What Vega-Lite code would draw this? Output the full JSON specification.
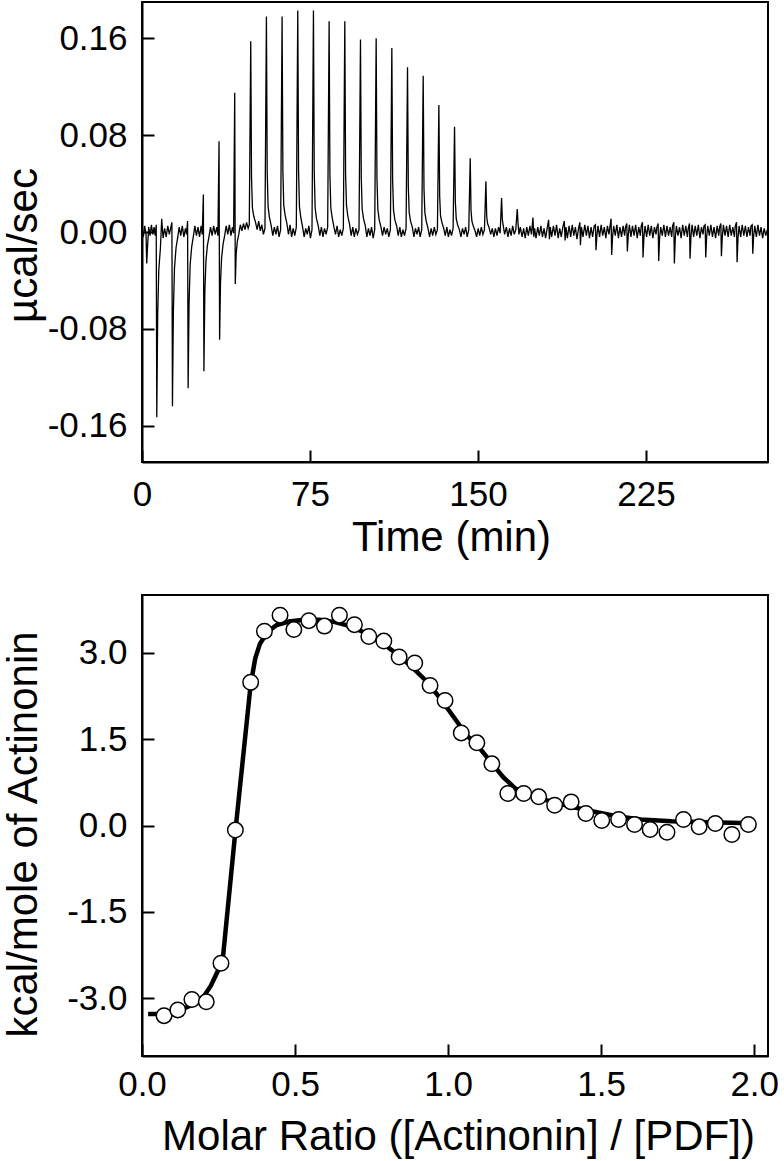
{
  "$schema": "https://vega.github.io/schema/vega-lite/v6.json",
  "background": "white",
  "padding": {"left": 0, "top": 1, "right": 10, "bottom": 5},
  "spacing": 133,
  "bounds": "flush",
  "config": {
    "font": "Liberation Sans",
    "view": {"stroke": "black", "strokeWidth": 2},
    "locale": {"number": {"decimal": ".", "thousands": ",", "grouping": [3], "currency": ["", ""], "minus": "-"}},
    "axis": {
      "domainColor": "black", "domainWidth": 2,
      "tickColor": "black", "tickWidth": 2, "tickSize": -12,
      "labelFont": "Liberation Sans", "labelFontSize": 35, "labelColor": "black",
      "titleFont": "Liberation Sans", "titleFontSize": 42, "titleFontWeight": "normal", "titleColor": "black",
      "grid": false, "labelFlush": false, "labelOverlap": false, "labelBound": false
    },
    "axisY": {"labelPadding": 27, "titleAngle": -90, "titleBaseline": "alphabetic", "titleAlign": "center"},
    "axisX": {"titleBaseline": "alphabetic", "titleAlign": "center"}
  },
  "vconcat": [
    {
      "width": 626,
      "height": 460,
      "data": {"values": [
        {"t":0,"p":0.003},{"t":0.6,"p":-0.004},{"t":1.2,"p":0.005},{"t":1.8,"p":-0.002},{"t":2.1,"p":-0.026},{"t":2.5,"p":-0.011},{"t":3.0,"p":0.004},{"t":3.6,"p":-0.003},{"t":4.2,"p":0.006},{"t":4.8,"p":-0.002},{"t":5.4,"p":0.004},{"t":5.9,"p":-0.003},
        {"t":6.35,"p":0.006},{"t":6.6,"p":-0.153},{"t":7.0,"p":-0.069},{"t":7.5,"p":-0.031},{"t":8.2,"p":-0.014},{"t":8.8,"p":0.011},{"t":9.4,"p":-0.005},{"t":10.1,"p":0.003},{"t":10.8,"p":-0.004},{"t":11.5,"p":0.005},{"t":12.2,"p":-0.002},{"t":12.9,"p":0.004},
        {"t":13.35,"p":0.008},{"t":13.6,"p":-0.144},{"t":14.0,"p":-0.066},{"t":14.5,"p":-0.03},{"t":15.2,"p":-0.013},{"t":15.9,"p":-0.005},{"t":16.6,"p":0.004},{"t":17.3,"p":-0.003},{"t":18.0,"p":0.005},{"t":18.7,"p":-0.004},{"t":19.4,"p":0.003},{"t":19.9,"p":-0.002},
        {"t":20.35,"p":0.009},{"t":20.6,"p":-0.129},{"t":21.0,"p":-0.06},{"t":21.5,"p":-0.027},{"t":22.2,"p":-0.012},{"t":22.9,"p":-0.004},{"t":23.6,"p":0.005},{"t":24.3,"p":-0.003},{"t":25.0,"p":0.004},{"t":25.7,"p":-0.004},{"t":26.4,"p":0.005},{"t":26.9,"p":-0.002},
        {"t":27.4,"p":0.031},{"t":27.65,"p":-0.115},{"t":28.05,"p":-0.05},{"t":28.55,"p":-0.024},{"t":29.2,"p":-0.011},{"t":29.9,"p":-0.004},{"t":30.6,"p":0.004},{"t":31.3,"p":-0.003},{"t":32.0,"p":0.005},{"t":32.7,"p":-0.002},{"t":33.4,"p":0.004},{"t":33.9,"p":-0.003},
        {"t":34.4,"p":0.075},{"t":34.65,"p":-0.089},{"t":35.05,"p":-0.042},{"t":35.55,"p":-0.021},{"t":36.2,"p":-0.01},{"t":36.9,"p":-0.003},{"t":37.6,"p":0.005},{"t":38.3,"p":-0.002},{"t":39.0,"p":0.006},{"t":39.7,"p":-0.003},{"t":40.4,"p":0.004},{"t":40.9,"p":-0.001},
        {"t":41.4,"p":0.115},{"t":41.65,"p":-0.043},{"t":42.05,"p":-0.018},{"t":42.55,"p":-0.008},{"t":43.2,"p":-0.002},{"t":43.9,"p":0.006},{"t":44.6,"p":0.001},{"t":45.3,"p":0.007},{"t":46.0,"p":0.002},{"t":46.7,"p":0.008},{"t":47.4,"p":0.003},{"t":47.9,"p":0.006},
        {"t":48.55,"p":0.1575},{"t":48.9,"p":0.045},{"t":49.3,"p":0.02},{"t":49.9,"p":0.013},{"t":50.7,"p":0.008},{"t":51.4,"p":0.002},{"t":52.1,"p":0.009},{"t":52.8,"p":0.001},{"t":53.5,"p":0.006},{"t":54.2,"p":-0.002},{"t":54.9,"p":0.003},
        {"t":55.55,"p":0.178},{"t":55.9,"p":0.05},{"t":56.3,"p":0.021},{"t":56.9,"p":0.012},{"t":57.7,"p":0.005},{"t":58.4,"p":-0.003},{"t":59.1,"p":0.004},{"t":59.8,"p":-0.002},{"t":60.5,"p":0.005},{"t":61.2,"p":-0.004},{"t":61.9,"p":0.002},
        {"t":62.55,"p":0.178},{"t":62.9,"p":0.05},{"t":63.3,"p":0.022},{"t":63.9,"p":0.014},{"t":64.7,"p":0.007},{"t":65.4,"p":-0.002},{"t":66.1,"p":0.006},{"t":66.8,"p":-0.004},{"t":67.5,"p":0.003},{"t":68.2,"p":-0.003},{"t":68.9,"p":0.004},
        {"t":69.55,"p":0.183},{"t":69.9,"p":0.051},{"t":70.3,"p":0.021},{"t":70.9,"p":0.012},{"t":71.7,"p":0.004},{"t":72.4,"p":-0.004},{"t":73.1,"p":0.003},{"t":73.8,"p":-0.002},{"t":74.5,"p":0.005},{"t":75.2,"p":-0.005},{"t":75.9,"p":0.002},
        {"t":76.55,"p":0.183},{"t":76.9,"p":0.05},{"t":77.3,"p":0.02},{"t":77.9,"p":0.011},{"t":78.7,"p":0.005},{"t":79.4,"p":-0.003},{"t":80.1,"p":0.004},{"t":80.8,"p":-0.004},{"t":81.5,"p":0.003},{"t":82.2,"p":-0.002},{"t":82.9,"p":0.004},
        {"t":83.55,"p":0.174},{"t":83.9,"p":0.048},{"t":84.3,"p":0.02},{"t":84.9,"p":0.012},{"t":85.7,"p":0.004},{"t":86.4,"p":-0.002},{"t":87.1,"p":0.005},{"t":87.8,"p":-0.004},{"t":88.5,"p":0.002},{"t":89.2,"p":-0.003},{"t":89.9,"p":0.003},
        {"t":90.55,"p":0.174},{"t":90.9,"p":0.048},{"t":91.3,"p":0.022},{"t":91.9,"p":0.013},{"t":92.7,"p":0.006},{"t":93.4,"p":-0.003},{"t":94.1,"p":0.004},{"t":94.8,"p":-0.004},{"t":95.5,"p":0.003},{"t":96.2,"p":-0.002},{"t":96.9,"p":0.002},
        {"t":97.55,"p":0.159},{"t":97.9,"p":0.045},{"t":98.3,"p":0.019},{"t":98.9,"p":0.011},{"t":99.7,"p":0.005},{"t":100.4,"p":-0.004},{"t":101.1,"p":0.003},{"t":101.8,"p":-0.003},{"t":102.5,"p":0.004},{"t":103.2,"p":-0.005},{"t":103.9,"p":0.002},
        {"t":104.55,"p":0.16},{"t":104.9,"p":0.045},{"t":105.3,"p":0.019},{"t":105.9,"p":0.01},{"t":106.7,"p":0.004},{"t":107.4,"p":-0.003},{"t":108.1,"p":0.004},{"t":108.8,"p":-0.002},{"t":109.5,"p":0.003},{"t":110.2,"p":-0.004},{"t":110.9,"p":0.002},
        {"t":111.55,"p":0.152},{"t":111.9,"p":0.043},{"t":112.3,"p":0.018},{"t":112.9,"p":0.01},{"t":113.7,"p":0.005},{"t":114.4,"p":-0.003},{"t":115.1,"p":0.004},{"t":115.8,"p":-0.004},{"t":116.5,"p":0.002},{"t":117.2,"p":-0.003},{"t":117.9,"p":0.003},
        {"t":118.55,"p":0.136},{"t":118.9,"p":0.038},{"t":119.3,"p":0.016},{"t":119.9,"p":0.009},{"t":120.7,"p":0.004},{"t":121.4,"p":-0.004},{"t":122.1,"p":0.003},{"t":122.8,"p":-0.002},{"t":123.5,"p":0.004},{"t":124.2,"p":-0.004},{"t":124.9,"p":0.002},
        {"t":125.55,"p":0.129},{"t":125.9,"p":0.036},{"t":126.3,"p":0.016},{"t":126.9,"p":0.009},{"t":127.7,"p":0.003},{"t":128.4,"p":-0.004},{"t":129.1,"p":0.003},{"t":129.8,"p":-0.003},{"t":130.5,"p":0.004},{"t":131.2,"p":-0.002},{"t":131.9,"p":0.002},
        {"t":132.55,"p":0.105},{"t":132.9,"p":0.03},{"t":133.3,"p":0.013},{"t":133.9,"p":0.008},{"t":134.7,"p":0.003},{"t":135.4,"p":-0.003},{"t":136.1,"p":0.004},{"t":136.8,"p":-0.004},{"t":137.5,"p":0.002},{"t":138.2,"p":-0.003},{"t":138.9,"p":0.003},
        {"t":139.55,"p":0.087},{"t":139.9,"p":0.025},{"t":140.3,"p":0.011},{"t":140.9,"p":0.006},{"t":141.7,"p":0.002},{"t":142.4,"p":-0.004},{"t":143.1,"p":0.003},{"t":143.8,"p":-0.002},{"t":144.5,"p":0.004},{"t":145.2,"p":-0.004},{"t":145.9,"p":0.002},
        {"t":146.55,"p":0.061},{"t":146.9,"p":0.018},{"t":147.3,"p":0.009},{"t":147.9,"p":0.005},{"t":148.7,"p":0.001},{"t":149.4,"p":-0.004},{"t":150.1,"p":0.003},{"t":150.8,"p":-0.003},{"t":151.5,"p":0.004},{"t":152.2,"p":-0.002},{"t":152.9,"p":0.002},
        {"t":153.55,"p":0.042},{"t":153.9,"p":0.013},{"t":154.3,"p":0.007},{"t":154.9,"p":0.004},{"t":155.7,"p":-0.002},{"t":156.4,"p":0.003},{"t":157.1,"p":-0.004},{"t":157.8,"p":0.003},{"t":158.5,"p":-0.003},{"t":159.2,"p":0.004},{"t":159.9,"p":-0.001},
        {"t":160.55,"p":0.028},{"t":160.9,"p":0.01},{"t":161.3,"p":0.005},{"t":161.9,"p":-0.002},{"t":162.7,"p":0.004},{"t":163.4,"p":-0.004},{"t":164.1,"p":0.003},{"t":164.8,"p":-0.003},{"t":165.5,"p":0.005},{"t":166.2,"p":-0.002},{"t":166.9,"p":0.002},
        {"t":167.55,"p":0.019},{"t":167.9,"p":0.007},{"t":168.3,"p":-0.002},{"t":168.9,"p":0.004},{"t":169.7,"p":-0.004},{"t":170.4,"p":0.003},{"t":171.1,"p":-0.005},{"t":171.8,"p":0.004},{"t":172.5,"p":-0.003},{"t":173.2,"p":0.005},{"t":173.9,"p":-0.002},
        {"t":174.55,"p":0.012},{"t":174.9,"p":-0.004},{"t":175.3,"p":0.003},{"t":175.9,"p":-0.005},{"t":176.7,"p":0.004},{"t":177.4,"p":-0.003},{"t":178.1,"p":0.005},{"t":178.8,"p":-0.004},{"t":179.5,"p":0.003},{"t":180.2,"p":-0.005},{"t":180.9,"p":0.003},
        {"t":181.55,"p":0.01},{"t":181.9,"p":-0.006},{"t":182.3,"p":0.004},{"t":182.9,"p":-0.004},{"t":183.7,"p":0.005},{"t":184.4,"p":-0.003},{"t":185.1,"p":0.006},{"t":185.8,"p":-0.005},{"t":186.5,"p":0.003},{"t":187.2,"p":-0.004},{"t":187.9,"p":0.004},
        {"t":188.55,"p":0.009},{"t":188.9,"p":-0.007},{"t":189.3,"p":0.004},{"t":189.9,"p":-0.005},{"t":190.7,"p":0.005},{"t":191.4,"p":-0.004},{"t":192.1,"p":0.006},{"t":192.8,"p":-0.003},{"t":193.5,"p":0.004},{"t":194.2,"p":-0.006},{"t":194.9,"p":0.003},
        {"t":195.5,"p":0.008},{"t":195.75,"p":-0.011},{"t":196.2,"p":0.004},{"t":196.9,"p":-0.004},{"t":197.7,"p":0.006},{"t":198.4,"p":-0.003},{"t":199.1,"p":0.005},{"t":199.8,"p":-0.005},{"t":200.5,"p":0.004},{"t":201.2,"p":-0.004},{"t":201.9,"p":0.005},
        {"t":202.45,"p":0.006},{"t":202.7,"p":-0.015},{"t":203.1,"p":-0.003},{"t":203.6,"p":0.005},{"t":204.3,"p":-0.004},{"t":205.0,"p":0.006},{"t":205.7,"p":-0.003},{"t":206.4,"p":0.004},{"t":207.1,"p":-0.005},{"t":207.8,"p":0.005},{"t":208.5,"p":-0.002},{"t":208.9,"p":0.004},
        {"t":209.45,"p":0.011},{"t":209.7,"p":-0.019},{"t":210.1,"p":-0.004},{"t":210.6,"p":0.005},{"t":211.3,"p":-0.003},{"t":212.0,"p":0.006},{"t":212.7,"p":-0.005},{"t":213.4,"p":0.004},{"t":214.1,"p":-0.004},{"t":214.8,"p":0.005},{"t":215.5,"p":-0.003},{"t":215.9,"p":0.004},
        {"t":216.45,"p":0.007},{"t":216.7,"p":-0.016},{"t":217.1,"p":-0.003},{"t":217.6,"p":0.006},{"t":218.3,"p":-0.004},{"t":219.0,"p":0.005},{"t":219.7,"p":-0.003},{"t":220.4,"p":0.006},{"t":221.1,"p":-0.005},{"t":221.8,"p":0.004},{"t":222.5,"p":-0.003},{"t":222.9,"p":0.005},
        {"t":223.45,"p":0.008},{"t":223.7,"p":-0.021},{"t":224.1,"p":-0.004},{"t":224.6,"p":0.005},{"t":225.3,"p":-0.004},{"t":226.0,"p":0.006},{"t":226.7,"p":-0.003},{"t":227.4,"p":0.005},{"t":228.1,"p":-0.005},{"t":228.8,"p":0.004},{"t":229.5,"p":-0.002},{"t":229.9,"p":0.004},
        {"t":230.45,"p":0.007},{"t":230.7,"p":-0.024},{"t":231.1,"p":-0.005},{"t":231.6,"p":0.004},{"t":232.3,"p":-0.003},{"t":233.0,"p":0.006},{"t":233.7,"p":-0.004},{"t":234.4,"p":0.005},{"t":235.1,"p":-0.003},{"t":235.8,"p":0.004},{"t":236.5,"p":-0.004},{"t":236.9,"p":0.005},
        {"t":237.45,"p":0.008},{"t":237.7,"p":-0.026},{"t":238.1,"p":-0.005},{"t":238.6,"p":0.005},{"t":239.3,"p":-0.003},{"t":240.0,"p":0.004},{"t":240.7,"p":-0.005},{"t":241.4,"p":0.006},{"t":242.1,"p":-0.003},{"t":242.8,"p":0.005},{"t":243.5,"p":-0.004},{"t":243.9,"p":0.003},
        {"t":244.45,"p":0.007},{"t":244.7,"p":-0.022},{"t":245.1,"p":-0.004},{"t":245.6,"p":0.006},{"t":246.3,"p":-0.004},{"t":247.0,"p":0.005},{"t":247.7,"p":-0.003},{"t":248.4,"p":0.006},{"t":249.1,"p":-0.005},{"t":249.8,"p":0.004},{"t":250.5,"p":-0.002},{"t":250.9,"p":0.005},
        {"t":251.45,"p":0.006},{"t":251.7,"p":-0.021},{"t":252.1,"p":-0.004},{"t":252.6,"p":0.005},{"t":253.3,"p":-0.003},{"t":254.0,"p":0.006},{"t":254.7,"p":-0.004},{"t":255.4,"p":0.004},{"t":256.1,"p":-0.005},{"t":256.8,"p":0.005},{"t":257.5,"p":-0.003},{"t":257.9,"p":0.004},
        {"t":258.45,"p":0.007},{"t":258.7,"p":-0.02},{"t":259.1,"p":-0.004},{"t":259.6,"p":0.006},{"t":260.3,"p":-0.003},{"t":261.0,"p":0.005},{"t":261.7,"p":-0.004},{"t":262.4,"p":0.006},{"t":263.1,"p":-0.003},{"t":263.8,"p":0.004},{"t":264.5,"p":-0.004},{"t":264.9,"p":0.005},
        {"t":265.45,"p":0.008},{"t":265.7,"p":-0.025},{"t":266.1,"p":-0.005},{"t":266.6,"p":0.005},{"t":267.3,"p":-0.004},{"t":268.0,"p":0.006},{"t":268.7,"p":-0.003},{"t":269.4,"p":0.005},{"t":270.1,"p":-0.004},{"t":270.8,"p":0.004},{"t":271.5,"p":-0.003},{"t":271.9,"p":0.005},
        {"t":272.45,"p":0.006},{"t":272.7,"p":-0.018},{"t":273.1,"p":-0.003},{"t":273.6,"p":0.005},{"t":274.3,"p":-0.004},{"t":275.0,"p":0.006},{"t":275.7,"p":-0.003},{"t":276.4,"p":0.004},{"t":277.1,"p":-0.005},{"t":277.8,"p":0.003},{"t":278.5,"p":-0.003},{"t":279.2,"p":0.002}
      ]},
      "mark": {"type": "line", "color": "black", "strokeWidth": 1.3, "clip": true},
      "encoding": {
        "x": {"field": "t", "type": "quantitative",
              "scale": {"domain": [0, 279.5], "nice": false, "zero": false},
              "axis": {"values": [0, 75, 150, 225], "format": "d", "title": "Time (min)", "labelPadding": 27, "titleX": 309, "titleY": 88}},
        "y": {"field": "p", "type": "quantitative",
              "scale": {"domain": [-0.19, 0.19], "nice": false, "zero": false},
              "axis": {"values": [-0.16, -0.08, 0, 0.08, 0.16], "format": ".2f", "title": "µcal/sec", "titleX": -106, "titleY": 243}}
      }
    },
    {
      "width": 626,
      "height": 461,
      "encoding": {
        "x": {"field": "x", "type": "quantitative",
              "scale": {"domain": [0, 2.045], "nice": false, "zero": false},
              "axis": {"values": [0, 0.5, 1, 1.5, 2], "format": ".1f", "title": "Molar Ratio ([Actinonin] / [PDF])", "labelPadding": 23, "titleX": 316, "titleY": 93}},
        "y": {"field": "y", "type": "quantitative",
              "scale": {"domain": [-4, 4], "nice": false, "zero": false},
              "axis": {"values": [-3, -1.5, 0, 1.5, 3], "format": ".1f", "title": "kcal/mole of Actinonin", "titleX": -106, "titleY": 239}}
      },
      "layer": [
        {
          "data": {"values": [
            {"x":0.02,"y":-3.27},{"x":0.07,"y":-3.27},{"x":0.12,"y":-3.21},{"x":0.165,"y":-3.11},{"x":0.2,"y":-2.98},{"x":0.225,"y":-2.78},{"x":0.25,"y":-2.5},{"x":0.265,"y":-2.26},{"x":0.305,"y":-0.1},{"x":0.355,"y":2.45},{"x":0.37,"y":2.9},{"x":0.385,"y":3.15},{"x":0.41,"y":3.36},{"x":0.44,"y":3.48},{"x":0.48,"y":3.54},{"x":0.53,"y":3.57},{"x":0.58,"y":3.57},{"x":0.63,"y":3.53},{"x":0.68,"y":3.46},{"x":0.73,"y":3.34},{"x":0.78,"y":3.18},{"x":0.83,"y":2.99},{"x":0.88,"y":2.76},{"x":0.93,"y":2.5},{"x":0.975,"y":2.2},{"x":1.02,"y":1.87},{"x":1.06,"y":1.57},{"x":1.1,"y":1.36},{"x":1.14,"y":1.1},{"x":1.18,"y":0.84},{"x":1.22,"y":0.64},{"x":1.26,"y":0.54},{"x":1.32,"y":0.44},{"x":1.4,"y":0.33},{"x":1.45,"y":0.27},{"x":1.55,"y":0.16},{"x":1.63,"y":0.105},{"x":1.73,"y":0.075},{"x":1.85,"y":0.055},{"x":1.96,"y":0.045}
          ]},
          "mark": {"type": "line", "color": "black", "strokeWidth": 4.5, "interpolate": "linear"}
        },
        {
          "data": {"values": [
            {"x":0.072,"y":-3.30},{"x":0.117,"y":-3.20},{"x":0.163,"y":-3.02},{"x":0.21,"y":-3.06},{"x":0.258,"y":-2.39},{"x":0.305,"y":-0.08},{"x":0.355,"y":2.485},{"x":0.40,"y":3.37},{"x":0.451,"y":3.65},{"x":0.496,"y":3.40},{"x":0.545,"y":3.555},{"x":0.596,"y":3.46},{"x":0.645,"y":3.65},{"x":0.694,"y":3.485},{"x":0.741,"y":3.28},{"x":0.79,"y":3.20},{"x":0.84,"y":2.925},{"x":0.891,"y":2.82},{"x":0.941,"y":2.43},{"x":0.99,"y":2.17},{"x":1.043,"y":1.607},{"x":1.094,"y":1.434},{"x":1.143,"y":1.07},{"x":1.195,"y":0.555},{"x":1.247,"y":0.555},{"x":1.296,"y":0.497},{"x":1.348,"y":0.352},{"x":1.402,"y":0.41},{"x":1.45,"y":0.208},{"x":1.502,"y":0.087},{"x":1.557,"y":0.104},{"x":1.609,"y":0.017},{"x":1.66,"y":-0.069},{"x":1.715,"y":-0.116},{"x":1.769,"y":0.104},{"x":1.82,"y":-0.023},{"x":1.873,"y":0.035},{"x":1.927,"y":-0.156},{"x":1.981,"y":0.017}
          ]},
          "mark": {"type": "point", "shape": "circle", "filled": true, "fill": "white", "stroke": "black", "strokeWidth": 1.5, "size": 240, "opacity": 1}
        }
      ]
    }
  ]
}
